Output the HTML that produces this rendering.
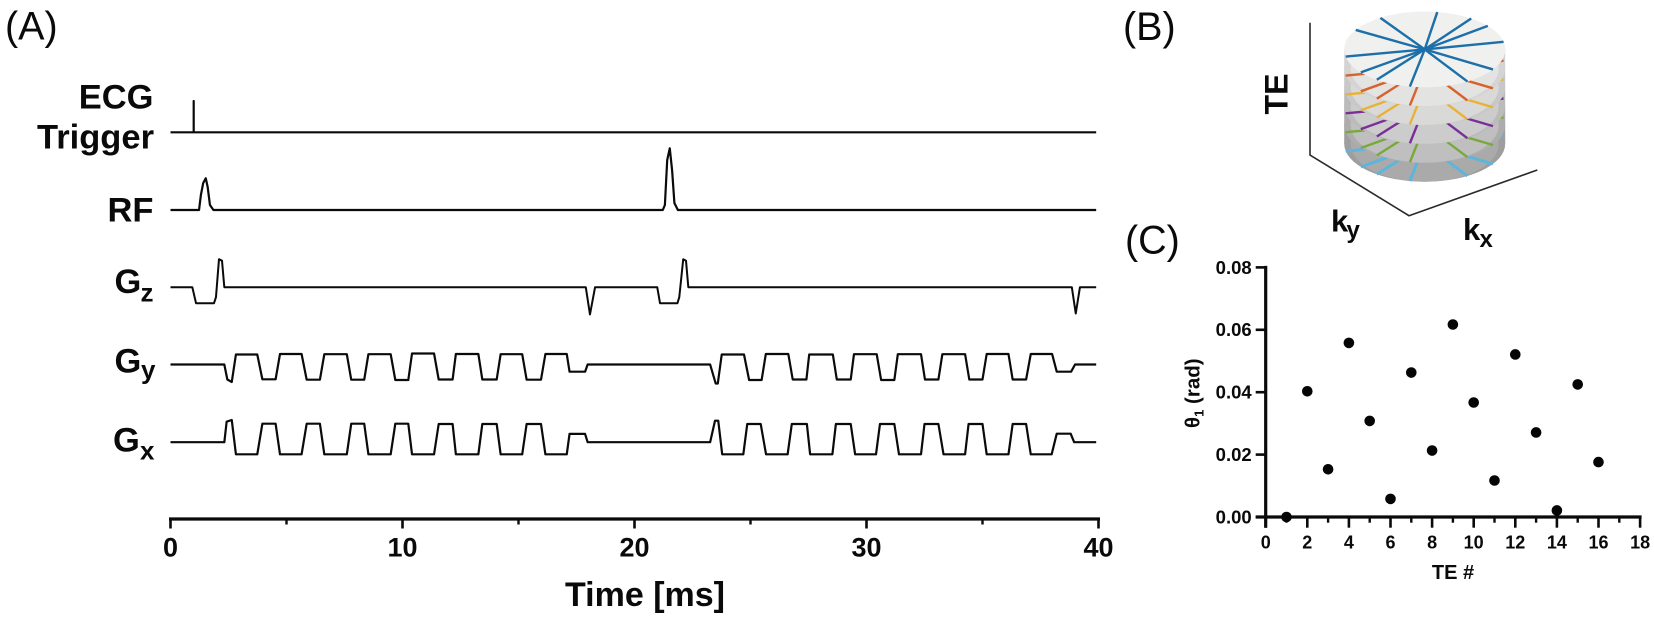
<!DOCTYPE html>
<html>
<head>
<meta charset="utf-8">
<title>MRI pulse sequence figure</title>
<style>
html,body{margin:0;padding:0;background:#fff;width:1654px;height:617px;overflow:hidden}
svg{display:block}
text{font-family:"Liberation Sans",sans-serif;fill:#0a0a0a}
.b{font-weight:bold}
</style>
</head>
<body>
<svg id="fig" xmlns="http://www.w3.org/2000/svg" width="1654" height="617" viewBox="0 0 1654 617">

<text x="5" y="39.5" font-size="39.5">(A)</text>
<text x="1123" y="40" font-size="39.5">(B)</text>
<text x="1125" y="253.7" font-size="39.5">(C)</text>

<text class="b" x="153.5" y="108.5" font-size="34.5" text-anchor="end">ECG</text>
<text class="b" x="154" y="148.5" font-size="34.5" text-anchor="end">Trigger</text>
<text class="b" x="153.5" y="221.7" font-size="34.5" text-anchor="end">RF</text>
<text class="b" x="114.5" y="293" font-size="34.5">G</text>
<text class="b" x="140.5" y="301.7" font-size="26">z</text>
<text class="b" x="114.5" y="372.7" font-size="34.5">G</text>
<text class="b" x="141" y="378.5" font-size="26">y</text>
<text class="b" x="113" y="451.7" font-size="34.5">G</text>
<text class="b" x="140" y="459.3" font-size="26">x</text>

<text class="b" x="645" y="606" font-size="34" text-anchor="middle">Time [ms]</text>

<g id="traces" fill="none" stroke="#0a0a0a" stroke-linejoin="round"></g>
<g id="axisA"></g>

<g id="cyl"></g>
<path d="M1310 22.7V155L1409 215.7L1537.3 170" fill="none" stroke="#2a2a2a" stroke-width="1.6"/>
<text class="b" transform="translate(1287.3,94) rotate(-90)" font-size="32" text-anchor="middle">TE</text>
<text class="b" x="1331" y="231.7" font-size="31">k</text>
<text class="b" x="1346.5" y="238" font-size="24">y</text>
<text class="b" x="1463" y="240" font-size="31">k</text>
<text class="b" x="1479.5" y="247" font-size="24">x</text>

<g id="axisC"></g>
<g id="dots"></g>
<text class="b" transform="translate(1199.3,428) rotate(-90)" font-size="20.5">θ<tspan font-size="13" dy="4">1</tspan><tspan dy="-4"> (rad)</tspan></text>
<text class="b" x="1453" y="579" font-size="20" text-anchor="middle">TE #</text>
</svg>

<script>
// Panel A: waveform data (time in ms, amplitude in a.u.)
const ecgTime = [0, 1, 1, 1, 39.9];
const ecgValue = [0, 0, 3.13, 0, 0];

const rfTime = [0, 1.23, 1.31, 1.41, 1.52, 1.6, 1.7, 1.85, 21.22, 21.31, 21.41, 21.52, 21.62, 21.72, 21.87, 39.9];
const rfValue = [0, 0, 1.5, 2.7, 3.17, 2.33, 0.5, 0, 0, 0.5, 5, 6.17, 4, 0.7, 0, 0];

const gzTime = [0, 0.94, 1.1, 1.875, 1.96, 2.09, 2.22, 2.32, 17.9, 18.08, 18.3, 20.98, 21.1, 21.85, 21.93, 22.1, 22.22, 22.32, 38.85, 39.02, 39.2, 39.9];
const gzValue = [0, 0, -1.6, -1.6, -1, 2.8, 2.65, 0, 0, -2.73, 0, 0, -1.6, -1.6, -1, 2.8, 2.65, 0, 0, -2.63, 0, 0];

const gyTime = [0, 2.32, 2.45, 2.64, 2.82, 3.74, 3.96, 4.53, 4.72, 5.65, 5.87, 6.44, 6.63, 7.6, 7.79, 8.35, 8.53, 9.49, 9.69, 10.25, 10.41, 11.36, 11.56, 12.16, 12.3, 13.27, 13.44, 14.06, 14.23, 15.16, 15.35, 15.97, 16.16, 17.08, 17.2, 17.87, 17.98,
  23.26, 23.5, 23.59, 23.76, 24.72, 24.94, 25.48, 25.66, 26.63, 26.82, 27.41, 27.53, 28.55, 28.72, 29.32, 29.46, 30.44, 30.63, 31.2, 31.35, 32.35, 32.52, 33.1, 33.27, 34.25, 34.43, 35, 35.18, 36.12, 36.3, 36.88, 37.08, 38, 38.2, 38.82, 38.99, 39.9];
const gyValue = [0, 0, -1.5, -1.75, 1, 1, -1.48, -1.48, 1.05, 1.05, -1.52, -1.52, 1.03, 1.03, -1.52, -1.52, 1.03, 1.03, -1.55, -1.55, 1.1, 1.1, -1.5, -1.5, 1.05, 1.05, -1.5, -1.5, 1.03, 1.03, -1.52, -1.52, 1.05, 1.05, -0.72, -0.72, 0,
  0, -1.9, -1.9, 1, 1, -1.55, -1.55, 1.05, 1.05, -1.5, -1.5, 1, 1, -1.5, -1.5, 1.03, 1.03, -1.55, -1.55, 1.03, 1.03, -1.5, -1.5, 1.03, 1.03, -1.5, -1.5, 1.05, 1.05, -1.5, -1.5, 1.05, 1.05, -0.72, -0.72, 0, 0];

const gxTime = [0, 2.32, 2.42, 2.64, 2.82, 3.74, 3.96, 4.53, 4.72, 5.65, 5.87, 6.44, 6.63, 7.6, 7.79, 8.35, 8.53, 9.49, 9.69, 10.25, 10.41, 11.36, 11.56, 12.16, 12.3, 13.27, 13.44, 14.06, 14.23, 15.16, 15.35, 15.97, 16.16, 17.08, 17.2, 17.87, 17.98,
  23.26, 23.47, 23.61, 23.78, 24.69, 24.86, 25.44, 25.67, 26.6, 26.78, 27.43, 27.57, 28.53, 28.68, 29.32, 29.51, 30.41, 30.58, 31.2, 31.4, 32.35, 32.5, 33.1, 33.32, 34.25, 34.4, 35, 35.18, 36.12, 36.3, 36.88, 37.08, 37.98, 38.2, 38.8, 38.95, 39.9];
const gxValue = [0, 0, 2.05, 2.22, -1.21, -1.21, 1.85, 1.85, -1.21, -1.21, 1.85, 1.85, -1.21, -1.21, 1.85, 1.85, -1.21, -1.21, 1.85, 1.85, -1.21, -1.21, 1.82, 1.82, -1.21, -1.21, 1.82, 1.82, -1.21, -1.21, 1.82, 1.82, -1.21, -1.21, 0.83, 0.83, 0,
  0, 2.15, 2.15,
  -1.21, -1.21, 1.82, 1.82,
  -1.21, -1.21, 1.82, 1.82,
  -1.21, -1.21, 1.82, 1.82,
  -1.21, -1.21, 1.82, 1.82,
  -1.21, -1.21, 1.82, 1.82,
  -1.21, -1.21, 1.82, 1.82,
  -1.21, -1.21, 1.82, 1.82,
  -1.21, -1.21, 0.85, 0.85, 0, 0];

const timeMajorTicks = [0, 10, 20, 30, 40];
const timeMinorTicks = [5, 15, 25, 35];

// Panel B: spoke azimuths (degrees) and layer palette
const spokeAngles = [-81, -123.4, -149, 169, 142.5, 126.5, 100.6, -54.7, -38.4, -11.6, 32, 58];
const layerColors = ["#1c6fa9", "#d8622c", "#e8b23a", "#7a2f98", "#79a83b", "#5eb5dc"];
const diskFaceColors = ["#f0f0ee", "#e3e3e1", "#d9d9d8", "#cccccc", "#bfbfbf", "#aaaaaa"];
const diskEdgeColors = ["#f0f0ee", "#d4d4d4", "#c8c8c8", "#bbbbbb", "#adadad", "#9e9e9e"];

// Panel C: scatter data
const teNumbers = [1, 2, 3, 4, 5, 6, 7, 8, 9, 10, 11, 12, 13, 14, 15, 16];
const theta1 = [0, 0.0403, 0.0153, 0.0558, 0.0308, 0.0058, 0.0463, 0.0213, 0.0617, 0.0367, 0.0117, 0.0521, 0.0271, 0.0021, 0.0425, 0.0176];
const teMajorTicks = [0, 2, 4, 6, 8, 10, 12, 14, 16, 18];
const teMinorTicks = [1, 3, 5, 7, 9, 11, 13, 15, 17];
const thetaTicks = [0, 0.02, 0.04, 0.06, 0.08];

const NS = "http://www.w3.org/2000/svg";
function mk(tag, parent, attrs) {
  const el = document.createElementNS(NS, tag);
  for (const k in attrs) el.setAttribute(k, attrs[k]);
  parent.appendChild(el);
  return el;
}

// axis functions
const xTime = t => 170.5 + 23.2 * t;
const ampY = (base, v) => base - v * 10;
const xTE = n => 1265.7 + 20.8 * n;
const yTheta = v => 517 - 3120 * v;

// traces
const traces = document.getElementById("traces");
function drawTrace(times, values, base, width, name) {
  const d = times.map((t, i) => (i ? "L" : "M") + xTime(t).toFixed(2) + " " + ampY(base, values[i]).toFixed(2)).join("");
  const p = mk("path", traces, { d: d, "stroke-width": width });
  
  
}
drawTrace(ecgTime, ecgValue, 132.3, 2.2, "ecg-trigger-trace");
drawTrace(rfTime, rfValue, 210, 2.2, "rf-trace");
drawTrace(gzTime, gzValue, 287.2, 2, "gz-trace");
drawTrace(gyTime, gyValue, 364.5, 2.2, "gy-trace");
drawTrace(gxTime, gxValue, 442.2, 2.2, "gx-trace");

// time axis
const axisA = document.getElementById("axisA");
const aLine = mk("line", axisA, { x1: xTime(0) - 1.5, x2: xTime(40) + 1.5, y1: 519, y2: 519, stroke: "#0a0a0a", "stroke-width": 3.2 });


timeMajorTicks.forEach(t => {
  const tick = mk("line", axisA, { x1: xTime(t), x2: xTime(t), y1: 519, y2: 528.5, stroke: "#0a0a0a", "stroke-width": 2.6 });
  
  
  const lab = mk("text", axisA, { x: xTime(t), y: 556.5, "font-size": 27, "text-anchor": "middle", class: "b" });
  lab.textContent = t;
  
  
});
timeMinorTicks.forEach(t => {
  const tick = mk("line", axisA, { x1: xTime(t), x2: xTime(t), y1: 519, y2: 524.5, stroke: "#0a0a0a", "stroke-width": 2.4 });
  
  
});

// cylinder, painted from the bottom layer up
const cyl = document.getElementById("cyl");
const cx = 1424.7, rx = 80.5, ry = 37.8, topY = 49.4, stepY = 18.9;
for (let k = layerColors.length - 1; k >= 0; k--) {
  const c = topY + k * stepY;
  if (k > 0) {
    const wall = mk("rect", cyl, { x: cx - rx, y: c - stepY, width: 2 * rx, height: stepY, fill: diskEdgeColors[k] });
    
    
  }
  const disk = mk("ellipse", cyl, { cx: cx, cy: c, rx: rx, ry: ry, fill: diskEdgeColors[k] });
  
  
  const face = mk("ellipse", cyl, { cx: cx, cy: c, rx: k === 0 ? rx : rx * 0.92, ry: ry, fill: diskFaceColors[k] });
  
  
  spokeAngles.forEach(a => {
    const r = a * Math.PI / 180;
    const sp = mk("line", cyl, {
      x1: cx, y1: c,
      x2: cx + rx * Math.cos(r), y2: c + ry * Math.sin(r),
      stroke: layerColors[k], "stroke-width": k === 5 ? 3 : 2.4
    });
    
    
  });
}

// scatter axes
const axisC = document.getElementById("axisC");
const cy = mk("line", axisC, { x1: xTE(0), x2: xTE(0), y1: yTheta(0.08) - 1.5, y2: 527.7, stroke: "#0a0a0a", "stroke-width": 3.2 });


const cxl = mk("line", axisC, { x1: 1255.7, x2: xTE(18) + 1.5, y1: 517, y2: 517, stroke: "#0a0a0a", "stroke-width": 3.2 });


thetaTicks.forEach(v => {
  const tick = mk("line", axisC, { x1: 1255.7, x2: xTE(0), y1: yTheta(v), y2: yTheta(v), stroke: "#0a0a0a", "stroke-width": 2.6 });
  
  
  const lab = mk("text", axisC, { x: 1251.7, y: yTheta(v) + 6.4, "font-size": 18.5, "text-anchor": "end", class: "b" });
  lab.textContent = v.toFixed(2);
  
  
});
teMajorTicks.forEach(n => {
  const tick = mk("line", axisC, { x1: xTE(n), x2: xTE(n), y1: 517, y2: 527.7, stroke: "#0a0a0a", "stroke-width": 2.6 });
  
  
  const lab = mk("text", axisC, { x: xTE(n), y: 548.3, "font-size": 18, "text-anchor": "middle", class: "b" });
  lab.textContent = n;
  
  
});
teMinorTicks.forEach(n => {
  const tick = mk("line", axisC, { x1: xTE(n), x2: xTE(n), y1: 517, y2: 522.7, stroke: "#0a0a0a", "stroke-width": 2.4 });
  
  
});

// scatter points
const dots = document.getElementById("dots");
teNumbers.forEach((n, i) => {
  const dot = mk("circle", dots, { cx: xTE(n), cy: yTheta(theta1[i]), r: 5.3, fill: "#050505" });
  
  
});
</script>
</body>
</html>
